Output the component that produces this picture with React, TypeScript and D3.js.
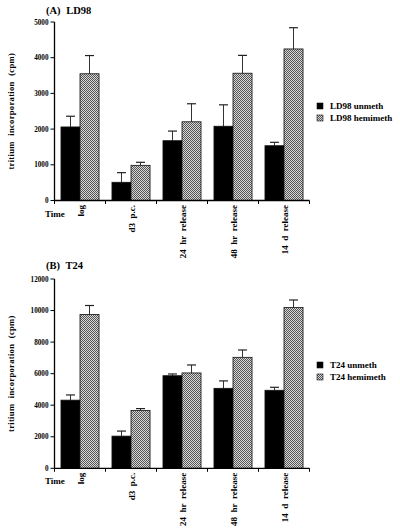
import React from "react";
import * as d3 from "d3";

const categories = ["log", "d3  p.c.", "24  hr  release", "48  hr  release", "14  d  release"];
const seriesKeys = ["unmeth", "hemimeth"];

const ld98Unmeth = [2060, 510, 1675, 2080, 1535];
const ld98UnmethErr = [300, 270, 270, 600, 95];
const ld98Hemi = [3550, 985, 2205, 3565, 4245];
const ld98HemiErr = [510, 85, 505, 500, 595];

const t24Unmeth = [4320, 2040, 5870, 5070, 4945];
const t24UnmethErr = [330, 320, 110, 470, 190];
const t24Hemi = [9750, 3660, 6045, 7035, 10190];
const t24HemiErr = [570, 125, 505, 465, 480];

const ldTicks = [0, 1000, 2000, 3000, 4000, 5000];
const t24Ticks = [0, 2000, 4000, 6000, 8000, 10000, 12000];

const FONT = "'Liberation Serif', 'Times New Roman', serif";

type PanelProps = {
  title: string;
  unmeth: number[];
  unmethErr: number[];
  hemi: number[];
  hemiErr: number[];
  ticks: number[];
  yMax: number;
  yTop: number;
  yBottom: number;
  legend: string[];
  legendY: number;
  titleY: number;
};

function Panel(p: PanelProps) {
  const x = d3.scaleBand<string>().domain(categories).range([54.5, 309.5]).paddingInner(0).paddingOuter(0);
  const xs = d3.scaleBand<string>().domain(seriesKeys).range([0, x.bandwidth()]).paddingInner(0).paddingOuter(0.34);
  const y = d3.scaleLinear().domain([0, p.yMax]).range([p.yBottom, p.yTop]);
  const bounds = categories.map((c) => x(c)!).concat([x.range()[1]]);
  const capW = 4.5;
  const series = [
    { key: "unmeth", vals: p.unmeth, errs: p.unmethErr, fill: "#000" },
    { key: "hemimeth", vals: p.hemi, errs: p.hemiErr, fill: "url(#checker)" },
  ];
  const midY = (p.yTop + p.yBottom) / 2;
  return (
    <g>
      <text x={46} y={p.titleY} fontSize={10.5} fontWeight="bold" fontFamily={FONT} style={{ wordSpacing: "3px" }}>
        {p.title}
      </text>
      <text
        transform={`translate(13.5,${midY}) rotate(-90)`}
        textAnchor="middle"
        fontSize={8.6}
        fontWeight="bold"
        fontFamily={FONT}
        style={{ wordSpacing: "3px", letterSpacing: "0.3px" }}
      >
        tritium incorporation (cpm)
      </text>
      {series.map((s) =>
        categories.map((c, i) => {
          const bx = x(c)! + xs(s.key)!;
          const top = y(s.vals[i]);
          const et = y(s.vals[i] + s.errs[i]);
          const cx = bx + xs.bandwidth() / 2;
          return (
            <g key={s.key + c}>
              <line x1={cx} x2={cx} y1={top} y2={et} stroke="#333" strokeWidth={1} />
              <line x1={cx - capW} x2={cx + capW} y1={et} y2={et} stroke="#222" strokeWidth={1.2} />
              <rect
                x={bx}
                y={top}
                width={xs.bandwidth()}
                height={p.yBottom - top}
                fill={s.fill}
                stroke="#111"
                strokeWidth={0.8}
              />
            </g>
          );
        })
      )}
      {/* y axis */}
      <line x1={54.5} x2={54.5} y1={p.yTop} y2={p.yBottom} stroke="#000" strokeWidth={1.3} />
      {p.ticks.map((t) => (
        <g key={t}>
          <line x1={50.5} x2={54.5} y1={y(t)} y2={y(t)} stroke="#000" strokeWidth={1} />
          <text x={48.5} y={y(t) + 2.5} textAnchor="end" fontSize={7.2} fontWeight="bold" fontFamily={FONT}>
            {t}
          </text>
        </g>
      ))}
      {/* x axis */}
      <line x1={54.5} x2={309.5} y1={p.yBottom} y2={p.yBottom} stroke="#000" strokeWidth={1.3} />
      {bounds.map((b, i) => (
        <line key={i} x1={b} x2={b} y1={p.yBottom} y2={p.yBottom + 3.5} stroke="#000" strokeWidth={1} />
      ))}
      <text x={45} y={p.yBottom + 16} fontSize={9} fontWeight="bold" fontFamily={FONT}>
        Time
      </text>
      {categories.map((c) => (
        <text
          key={c}
          transform={`translate(${x(c)! + x.bandwidth() / 2 + 3.5},${p.yBottom + 4.5}) rotate(-90)`}
          textAnchor="end"
          fontSize={9}
          fontWeight="bold"
          fontFamily={FONT}
          style={{ whiteSpace: "pre" }}
        >
          {c}
        </text>
      ))}
      {/* legend */}
      {p.legend.map((l, i) => (
        <g key={l}>
          <rect
            x={317}
            y={p.legendY + i * 12 - 3}
            width={6}
            height={6}
            fill={i === 0 ? "#000" : "url(#checker)"}
            stroke="#111"
            strokeWidth={0.6}
          />
          <text x={330} y={p.legendY + i * 12 + 3} fontSize={9} fontWeight="bold" fontFamily={FONT}>
            {l}
          </text>
        </g>
      ))}
    </g>
  );
}

export default function App() {
  return (
    <svg
      width={400}
      height={531}
      style={{ position: "absolute", left: 0, top: 0, background: "#fff" }}
    >
      <defs>
        <pattern id="checker" width={2} height={2} patternUnits="userSpaceOnUse">
          <rect width={2} height={2} fill="#d8d8d8" />
          <rect width={1} height={1} fill="#555" />
          <rect x={1} y={1} width={1} height={1} fill="#555" />
        </pattern>
      </defs>
      <Panel
        title="(A)  LD98"
        unmeth={ld98Unmeth}
        unmethErr={ld98UnmethErr}
        hemi={ld98Hemi}
        hemiErr={ld98HemiErr}
        ticks={ldTicks}
        yMax={5000}
        yTop={22}
        yBottom={200.5}
        legend={["LD98 unmeth", "LD98 hemimeth"]}
        legendY={106}
        titleY={14}
      />
      <Panel
        title="(B)  T24"
        unmeth={t24Unmeth}
        unmethErr={t24UnmethErr}
        hemi={t24Hemi}
        hemiErr={t24HemiErr}
        ticks={t24Ticks}
        yMax={12000}
        yTop={279}
        yBottom={468.3}
        legend={["T24 unmeth", "T24 hemimeth"]}
        legendY={365}
        titleY={269}
      />
    </svg>
  );
}
